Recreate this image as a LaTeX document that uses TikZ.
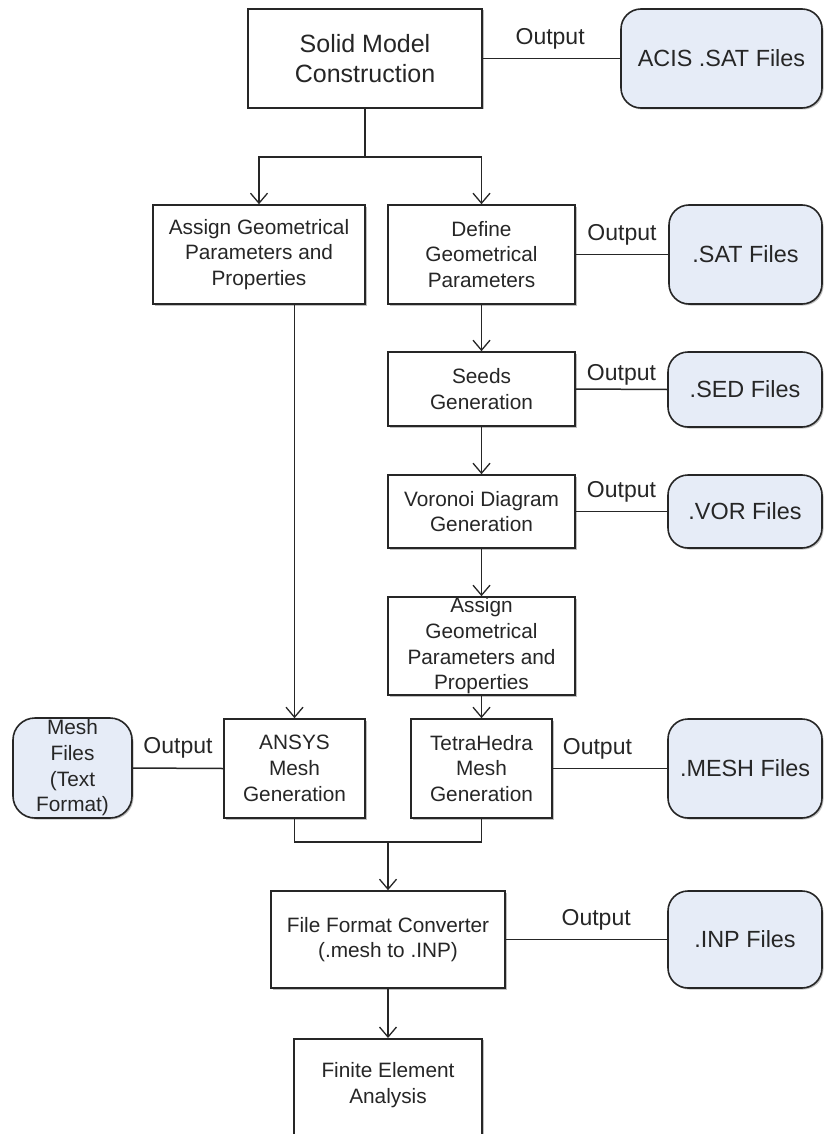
\documentclass[tikz,border=0pt]{standalone}
\usepackage{fontspec}
\setmainfont{Liberation Sans}
\usetikzlibrary{arrows.meta,shadows}

\definecolor{ink}{HTML}{262626}
\definecolor{filebg}{HTML}{E6ECF7}

\tikzset{
  stage/.style={draw=ink, line width=1.6pt, fill=white, rectangle, inner sep=0pt,
    align=center, text=ink, font=\fontsize{20.8}{25.7}\selectfont,
    drop shadow={shadow xshift=1.5pt, shadow yshift=-1.5pt, opacity=0.25, fill=black}},
  filebox/.style={draw=ink, line width=1.6pt, fill=filebg, rectangle, rounded corners=20pt,
    inner sep=0pt, align=center, text=ink, font=\fontsize{23.4}{27}\selectfont,
    drop shadow={shadow xshift=1.5pt, shadow yshift=-1.5pt, opacity=0.25, fill=black}},
  link/.style={draw=ink, line width=1.5pt},
  flow/.style={link, -{Straight Barb[length=10pt, width=17pt, line width=1.3pt]}},
  outlabel/.style={text=ink, font=\fontsize{23}{26}\selectfont, inner sep=0pt, yshift=20pt}
}

\begin{document}
\begin{tikzpicture}[x=1pt, y=-1pt]
\useasboundingbox (0,0) rectangle (825,1134);
\fill[white] (0,0) rectangle (825,1134);

% main chain of processing stages
\node[stage, minimum width=234pt, minimum height=99pt, font=\fontsize{25}{30}\selectfont]
  (solid) at (365,58.5) {Solid Model\\Construction};
\node[stage, minimum width=212pt, minimum height=99pt] (assignL) at (259,254.5)
  {Assign Geometrical\\Parameters and\\Properties};
\node[stage, minimum width=187pt, minimum height=99pt] (define) at (481.5,254.5)
  {Define\\Geometrical\\Parameters};
\node[stage, minimum width=187pt, minimum height=74pt] (seeds) at (481.5,389)
  {Seeds\\Generation};
\node[stage, minimum width=187pt, minimum height=73pt] (voronoi) at (481.5,511.5)
  {Voronoi Diagram\\Generation};
\node[stage, minimum width=187pt, minimum height=98pt] (assignR) at (481.5,646)
  {Assign\\Geometrical\\Parameters and\\Properties};
\node[stage, minimum width=141pt, minimum height=99pt] (ansys) at (294.5,768.5)
  {ANSYS\\Mesh\\Generation};
\node[stage, minimum width=141pt, minimum height=99pt] (tetra) at (481.5,768.5)
  {TetraHedra\\Mesh\\Generation};
\node[stage, minimum width=234pt, minimum height=97pt] (conv) at (388,939.5)
  {File Format Converter\\(.mesh to .INP)};
\node[stage, minimum width=188pt, minimum height=112pt, anchor=north] (fea) at (388,1038) {};
\node[text=ink, font=\fontsize{20.8}{25.7}\selectfont, align=center, inner sep=0pt]
  (featext) at (388,1085) {Finite Element\\Analysis};

% output files
\node[filebox, minimum width=201pt, minimum height=99pt] (acis) at (721.5,58.5) {ACIS .SAT Files};
\node[filebox, minimum width=153pt, minimum height=99pt] (sat) at (745.5,254.5) {.SAT Files};
\node[filebox, minimum width=154pt, minimum height=75pt] (sed) at (745,389.5) {.SED Files};
\node[filebox, minimum width=154pt, minimum height=73pt] (vor) at (745,511.5) {.VOR Files};
\node[filebox, minimum width=154pt, minimum height=99pt] (meshout) at (745,768.5) {.MESH Files};
\node[filebox, minimum width=154pt, minimum height=97pt] (inp) at (745,939.5) {.INP Files};
\node[filebox, minimum width=119pt, minimum height=100pt, rounded corners=22pt,
  font=\fontsize{20.8}{25.7}\selectfont] (meshtxt) at (72.5,768) {Mesh\\Files\\(Text\\Format)};

% branching after the solid model
\coordinate (split) at (365,157);
\draw[link] (solid.south) -- (split);
\draw[flow] (split) -| (assignL.north);
\draw[flow] (split) -| (define.north);

% right-hand chain
\draw[flow] (define) -- (seeds);
\draw[flow] (seeds) -- (voronoi);
\draw[flow] (voronoi) -- (assignR);
\draw[flow] (assignR) -- (tetra);

% left-hand chain
\draw[flow] (ansys.north |- assignL.south) -- (ansys.north);

% merge into the converter
\coordinate (join) at (388,842);
\draw[link] (ansys.south) -- (ansys.south |- join) -| (tetra.south);
\draw[flow] (join) -- (conv.north);
\draw[flow] (conv) -- (fea.north);

% output links
\draw[link] (solid.east) -- node[outlabel, pos=0.49] {Output} (acis.west);
\draw[link] (define.east) -- node[outlabel] {Output} (sat.west);
\draw[link] (seeds.east) -- node[outlabel, yshift=-6pt] {Output} (sed.west);
\draw[link] (voronoi.east) -- node[outlabel] {Output} (vor.west);
\draw[link] (ansys.west) -- node[outlabel] {Output} (meshtxt.east);
\draw[link] (tetra.east) -- node[outlabel, pos=0.39] {Output} (meshout.west);
\draw[link] (conv.east) -- node[outlabel, pos=0.56] {Output} (inp.west);
\end{tikzpicture}
\end{document}
